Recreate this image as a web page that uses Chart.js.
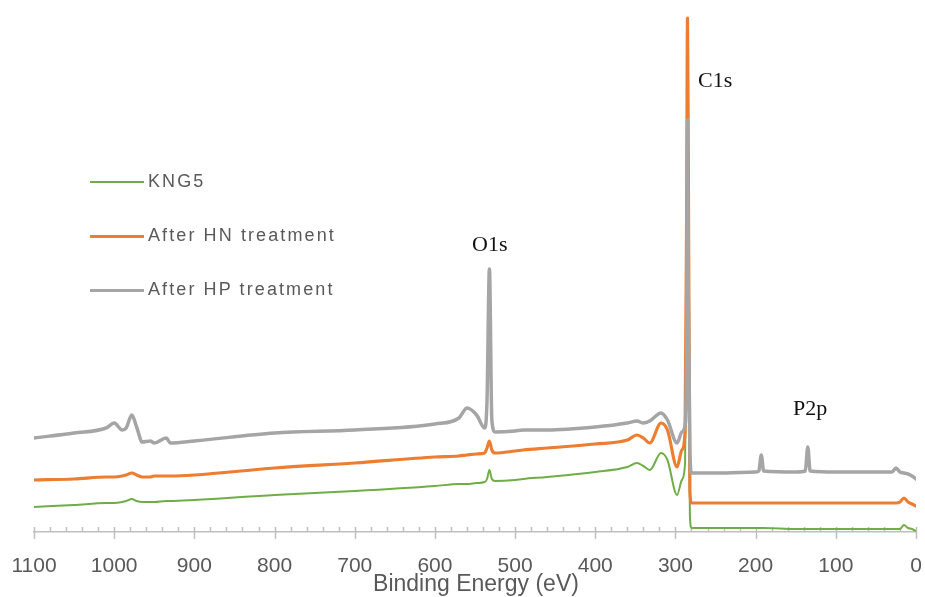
<!DOCTYPE html>
<html>
<head>
<meta charset="utf-8">
<script src="https://cdn.jsdelivr.net/npm/chart.js@4.4.1/dist/chart.umd.min.js"></script>
<style>
  html, body { margin: 0; padding: 0; background: #fff; }
  #wrap { position: relative; width: 925px; height: 597px; overflow: hidden; }
  canvas { position: absolute; left: 0; top: 0; }
  .leg { position: absolute; left: 90px; height: 20px; font-family: "Liberation Sans", Arial, sans-serif; font-size: 18px; letter-spacing: 2.1px; color: #595959; white-space: nowrap; }
  .leg span.sw { position: absolute; left: 0; width: 54px; }
  .leg span.tx { position: absolute; left: 58px; top: -1px; line-height: 20px; }
  .ann { position: absolute; font-family: "Liberation Serif", "Times New Roman", serif; font-size: 22px; color: #111; white-space: nowrap; line-height: 24px; }
  #xtitle { position: absolute; left: 0; width: 952px; text-align: center; top: 570px; font-family: "Liberation Sans", Arial, sans-serif; font-size: 23px; color: #595959; line-height: 26px; }
</style>
</head>
<body>
<div id="wrap">
  <canvas id="c" width="925" height="597"></canvas>
  <div class="leg" style="top:172px"><span class="sw" style="top:9px;border-top:2px solid #70AD47"></span><span class="tx">KNG5</span></div>
  <div class="leg" style="top:226px"><span class="sw" style="top:9px;border-top:3px solid #ED7D31"></span><span class="tx">After HN treatment</span></div>
  <div class="leg" style="top:280px"><span class="sw" style="top:9px;border-top:3px solid #A5A5A5"></span><span class="tx">After HP treatment</span></div>
  <div class="ann" style="left:472px;top:232px">O1s</div>
  <div class="ann" style="left:698px;top:68px">C1s</div>
  <div class="ann" style="left:793px;top:396px">P2p</div>
  <div id="xtitle">Binding Energy (eV)</div>
</div>
<script>
// Binding energy grid (eV)
const energy = [1100,1050,1010,1000,990,985,978,972,965,955,950,935,930,900,800,700,600,570,560,548,538,535,532,529,525,500,490,460,400,360,348,340,332,318,310,298,292,288,286,285,284,282,280,275,250,200,196,193,190,150,138,135,132,100,50,30,25,20,15,10,5,0];

// Intensities (arbitrary units, stacked offsets)
const kng5 = [34,36,38,38,39,40,42,40,39,39,39,40,40,41,46,50,55,57,57,58,59,62,71,62,60,61,62,64,69,74,78,75,71,88,81,46,61,78,241,381,241,26,13,13,13,13,13,13,13,12,12,12,12,12,12,12,12,12,16,13,12,10];
const afterHN = [61,62,64,64,65,66,68,66,64,64,65,65,65,66,73,78,84,85,86,87,88,93,100,91,88,90,91,93,97,101,106,103,98,118,111,74,91,109,340,523,390,51,38,38,38,38,38,38,38,38,38,38,38,38,38,38,38,39,43,39,37,35];
const afterHP = [103,108,113,118,111,113,126,114,99,100,98,103,98,100,108,111,117,123,133,126,113,141,272,121,109,110,111,111,114,118,120,118,120,128,121,98,109,116,200,421,250,90,68,68,68,69,70,86,70,69,70,94,70,69,69,69,73,69,68,67,65,62];

const seriesNames = ["KNG5", "After HN treatment", "After HP treatment"];
const xTicks = [1100,1000,900,800,700,600,500,400,300,200,100,0];

function toPts(vals) { return energy.map((e, i) => ({ x: e, y: vals[i] })); }

const axisTicks = {
  id: 'axisTicks',
  beforeDatasetsDraw(chart) {
    const xs = chart.scales.x;
    const y0 = chart.chartArea.bottom;
    const ctx = chart.ctx;
    ctx.save();
    ctx.strokeStyle = '#BFBFBF';
    ctx.lineWidth = 1.5;
    for (let v = 0; v <= 1100; v += 20) {
      const px = Math.round(xs.getPixelForValue(v)) + 0.5;
      ctx.beginPath();
      if (v % 100 === 0) { ctx.moveTo(px, y0 - 5); ctx.lineTo(px, y0 + 7); }
      else { ctx.moveTo(px, y0 - 5); ctx.lineTo(px, y0); }
      ctx.stroke();
    }
    ctx.restore();
  }
};

new Chart(document.getElementById('c'), {
  type: 'line',
  data: {
    datasets: [
      { label: seriesNames[2], data: toPts(afterHP), borderColor: '#A5A5A5', borderWidth: 3.5, order: 0 },
      { label: seriesNames[1], data: toPts(afterHN), borderColor: '#ED7D31', borderWidth: 3.2, order: 1 },
      { label: seriesNames[0], data: toPts(kng5), borderColor: '#70AD47', borderWidth: 2, order: 2 }
    ]
  },
  options: {
    responsive: false,
    animation: false,
    devicePixelRatio: 1,
    layout: { padding: { left: 34, right: 9, top: 15, bottom: 19 } },
    elements: {
      point: { radius: 0 },
      line: { cubicInterpolationMode: 'monotone', borderJoinStyle: 'round', borderCapStyle: 'round' }
    },
    plugins: { legend: { display: false }, tooltip: { enabled: false } },
    scales: {
      x: {
        type: 'linear', reverse: true, min: 0, max: 1100,
        afterBuildTicks: (s) => { s.ticks = xTicks.map(v => ({ value: v })); },
        afterFit: (s) => { s.height = 46; s.paddingLeft = 0; s.paddingRight = 0; },
        ticks: { autoSkip: false, maxRotation: 0, minRotation: 0, padding: 22, color: '#595959',
                 callback: (v) => String(v),
                 font: { family: '"Liberation Sans", Arial, sans-serif', size: 21 } },
        grid: { display: false, drawTicks: false },
        border: { display: true, color: '#BFBFBF', width: 1.5 }
      },
      y: { display: false, min: 9, max: 526 }
    }
  },
  plugins: [axisTicks]
});
</script>
</body>
</html>
